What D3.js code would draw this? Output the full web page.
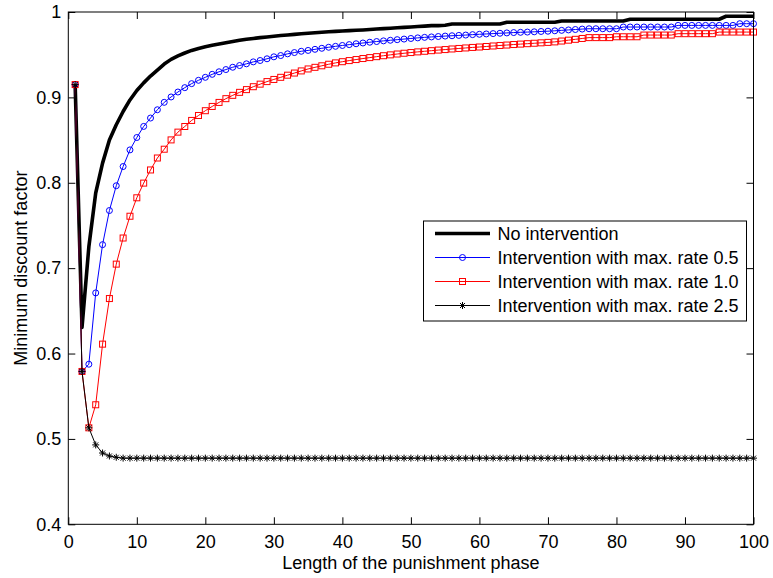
<!DOCTYPE html>
<html>
<head>
<meta charset="utf-8">
<script src="https://cdn.jsdelivr.net/npm/d3@7"></script>
<style>
  body { margin: 0; background: #fff; }
  text { font-family: "Liberation Sans", Arial, sans-serif; }
</style>
</head>
<body>
<div id="chart"></div>
<script>
// values, one per punishment length 1..100
var noIntervention = [
  0.915, 0.6306, 0.725, 0.788, 0.823, 0.850, 0.868, 0.8835, 0.897, 0.908,
  0.917, 0.925, 0.932, 0.939, 0.9445, 0.9485, 0.952, 0.955, 0.9573, 0.9593,
  0.961, 0.9625, 0.964, 0.9655, 0.9668, 0.968, 0.969, 0.970, 0.9708, 0.9716,
  0.9724, 0.9731, 0.9738, 0.9745, 0.9751, 0.9757, 0.9763, 0.9768, 0.9773, 0.9777,
  0.9782, 0.9786, 0.979, 0.9795, 0.98, 0.9805, 0.981, 0.9815, 0.982, 0.9825,
  0.983, 0.9835, 0.984, 0.984, 0.9845, 0.986, 0.986, 0.986, 0.986, 0.986,
  0.986, 0.986, 0.986, 0.988, 0.988, 0.988, 0.988, 0.988, 0.988, 0.988,
  0.988, 0.9895, 0.9895, 0.9895, 0.9895, 0.9895, 0.9895, 0.9895, 0.9895, 0.9895,
  0.9895, 0.9915, 0.9915, 0.9915, 0.9915, 0.9915, 0.9915, 0.9915, 0.9915, 0.9915,
  0.9915, 0.9915, 0.9915, 0.9915, 0.9915, 0.995, 0.995, 0.995, 0.995, 0.995
];

var rate05 = [
  0.915, 0.579, 0.5875, 0.671, 0.7275, 0.7675, 0.7965, 0.819, 0.8385, 0.853,
  0.866, 0.8758, 0.8855, 0.8942, 0.9005, 0.9063, 0.9114, 0.9161, 0.920, 0.9235,
  0.927, 0.930, 0.9326, 0.9353, 0.9373, 0.9393, 0.9416, 0.9432, 0.9452, 0.9475,
  0.949, 0.951, 0.9525, 0.954, 0.955, 0.9563, 0.9575, 0.9587, 0.9598, 0.9608,
  0.9618, 0.9628, 0.9637, 0.9646, 0.9654, 0.9662, 0.9669, 0.9676, 0.9683, 0.969,
  0.9697, 0.9703, 0.9708, 0.9713, 0.9718, 0.9722, 0.9726, 0.973, 0.9735, 0.9739,
  0.9743, 0.9747, 0.9751, 0.9755, 0.9759, 0.9762, 0.9765, 0.9768, 0.9772, 0.9775,
  0.978, 0.9785, 0.979, 0.9795, 0.98, 0.9804, 0.9804, 0.9804, 0.9804, 0.9804,
  0.9824, 0.9824, 0.9824, 0.9824, 0.9824, 0.9824, 0.9824, 0.9824, 0.9843, 0.9843,
  0.9843, 0.9843, 0.9843, 0.9843, 0.9843, 0.9843, 0.9843, 0.9863, 0.9863, 0.9863
];

var rate10 = [
  0.915, 0.579, 0.513, 0.540, 0.611, 0.6644, 0.7047, 0.7353, 0.7608, 0.7824,
  0.7996, 0.815, 0.829, 0.8393, 0.8502, 0.8593, 0.8659, 0.873, 0.8788, 0.8844,
  0.8894, 0.8941, 0.8985, 0.9024, 0.9059, 0.9091, 0.9125, 0.9155, 0.9185, 0.921,
  0.9235, 0.926, 0.9285, 0.931, 0.9333, 0.9352, 0.937, 0.9388, 0.9404, 0.9418,
  0.9431, 0.9443, 0.9455, 0.9466, 0.9477, 0.9488, 0.9498, 0.9508, 0.9517, 0.9525,
  0.9533, 0.954, 0.9547, 0.9554, 0.956, 0.9567, 0.9573, 0.9579, 0.9585, 0.959,
  0.9596, 0.9602, 0.9608, 0.9613, 0.9619, 0.9624, 0.9629, 0.9634, 0.9639, 0.9644,
  0.965, 0.966, 0.967, 0.968, 0.969, 0.970, 0.970, 0.970, 0.970, 0.971,
  0.971, 0.971, 0.971, 0.973, 0.973, 0.973, 0.973, 0.973, 0.9746, 0.9746,
  0.9746, 0.9746, 0.9746, 0.9746, 0.9765, 0.9765, 0.9765, 0.9765, 0.9765, 0.9765
];

var rate25 = [
  0.915, 0.579, 0.513, 0.493, 0.4835, 0.480, 0.4785, 0.4775, 0.4775, 0.4775,
  0.4775, 0.4775, 0.4775, 0.4775, 0.4775, 0.4775, 0.4775, 0.4775, 0.4775, 0.4775,
  0.4775, 0.4775, 0.4775, 0.4775, 0.4775, 0.4775, 0.4775, 0.4775, 0.4775, 0.4775,
  0.4775, 0.4775, 0.4775, 0.4775, 0.4775, 0.4775, 0.4775, 0.4775, 0.4775, 0.4775,
  0.4775, 0.4775, 0.4775, 0.4775, 0.4775, 0.4775, 0.4775, 0.4775, 0.4775, 0.4775,
  0.4775, 0.4775, 0.4775, 0.4775, 0.4775, 0.4775, 0.4775, 0.4775, 0.4775, 0.4775,
  0.4775, 0.4775, 0.4775, 0.4775, 0.4775, 0.4775, 0.4775, 0.4775, 0.4775, 0.4775,
  0.4775, 0.4775, 0.4775, 0.4775, 0.4775, 0.4775, 0.4775, 0.4775, 0.4775, 0.4775,
  0.4775, 0.4775, 0.4775, 0.4775, 0.4775, 0.4775, 0.4775, 0.4775, 0.4775, 0.4775,
  0.4775, 0.4775, 0.4775, 0.4775, 0.4775, 0.4775, 0.4775, 0.4775, 0.4775, 0.4775
];

var xTicks = [0, 10, 20, 30, 40, 50, 60, 70, 80, 90, 100];
var yTicks = [0.4, 0.5, 0.6, 0.7, 0.8, 0.9, 1];

var legendLabels = [
  "No intervention",
  "Intervention with max. rate 0.5",
  "Intervention with max. rate 1.0",
  "Intervention with max. rate 2.5"
];

var svgWidth = 773;
var svgHeight = 578;

var margin = { top: 12, right: 19.5, bottom: 53.7, left: 68.3 };
var width = svgWidth - margin.left - margin.right;
var height = svgHeight - margin.top - margin.bottom;

var svg = d3.select("#chart")
  .append("svg")
  .attr("width", svgWidth)
  .attr("height", svgHeight);

svg.append("rect")
  .attr("width", svgWidth)
  .attr("height", svgHeight)
  .attr("fill", "#fff");

var chartGroup = svg.append("g")
  .attr("transform", `translate(${margin.left}, ${margin.top})`);

var xScale = d3.scaleLinear().domain([0, 100]).range([0, width]);
var yScale = d3.scaleLinear().domain([0.4, 1]).range([height, 0]);

// inward ticks on all four sides, labels only bottom and left
var bottomAxis = d3.axisBottom(xScale).tickValues(xTicks).tickSize(-7).tickPadding(11)
  .tickFormat(d3.format("d"));
var topAxis = d3.axisTop(xScale).tickValues(xTicks).tickSize(-7).tickFormat("");
var leftAxis = d3.axisLeft(yScale).tickValues(yTicks).tickSize(-7).tickPadding(7)
  .tickFormat(d => d === 1 ? "1" : d3.format(".1f")(d));
var rightAxis = d3.axisRight(yScale).tickValues(yTicks).tickSize(-7).tickFormat("");

function styleAxis(g) {
  g.select(".domain").remove();
  g.selectAll(".tick line").attr("stroke", "#000");
  g.selectAll(".tick text")
    .attr("fill", "#000")
    .style("font-size", "18px")
    .style("font-family", "'Liberation Sans', Arial, sans-serif");
}

chartGroup.append("g")
  .attr("transform", `translate(0, ${height})`)
  .call(bottomAxis)
  .call(styleAxis);

chartGroup.append("g")
  .call(topAxis)
  .call(styleAxis);

chartGroup.append("g")
  .call(leftAxis)
  .call(styleAxis);

chartGroup.append("g")
  .attr("transform", `translate(${width}, 0)`)
  .call(rightAxis)
  .call(styleAxis);

// series lines
var line = d3.line()
  .x((d, i) => xScale(i + 1))
  .y(d => yScale(d));

chartGroup.append("path")
  .datum(noIntervention)
  .attr("d", line)
  .attr("fill", "none")
  .attr("stroke", "#000")
  .attr("stroke-width", 3.6)
  .attr("stroke-linejoin", "round");

chartGroup.append("path")
  .datum(rate05)
  .attr("d", line)
  .attr("fill", "none")
  .attr("stroke", "#0000ff")
  .attr("stroke-width", 1);

chartGroup.selectAll(".circ")
  .data(rate05)
  .enter()
  .append("circle")
  .attr("class", "circ")
  .attr("cx", (d, i) => xScale(i + 1))
  .attr("cy", d => yScale(d))
  .attr("r", 3)
  .attr("fill", "none")
  .attr("stroke", "#0000ff")
  .attr("stroke-width", 1);

chartGroup.append("path")
  .datum(rate10)
  .attr("d", line)
  .attr("fill", "none")
  .attr("stroke", "#ff0000")
  .attr("stroke-width", 1);

chartGroup.selectAll(".sq")
  .data(rate10)
  .enter()
  .append("rect")
  .attr("class", "sq")
  .attr("x", (d, i) => xScale(i + 1) - 3)
  .attr("y", d => yScale(d) - 3)
  .attr("width", 6)
  .attr("height", 6)
  .attr("fill", "none")
  .attr("stroke", "#ff0000")
  .attr("stroke-width", 1);

var starPath = "M-3.5,0H3.5M0,-3.5V3.5M-2.5,-2.5L2.5,2.5M-2.5,2.5L2.5,-2.5";

chartGroup.append("path")
  .datum(rate25)
  .attr("d", line)
  .attr("fill", "none")
  .attr("stroke", "#000")
  .attr("stroke-width", 1);

chartGroup.selectAll(".star")
  .data(rate25)
  .enter()
  .append("path")
  .attr("class", "star")
  .attr("transform", (d, i) => `translate(${xScale(i + 1)}, ${yScale(d)})`)
  .attr("d", starPath)
  .attr("fill", "none")
  .attr("stroke", "#000")
  .attr("stroke-width", 1);

// frame
chartGroup.append("rect")
  .attr("width", width)
  .attr("height", height)
  .attr("fill", "none")
  .attr("stroke", "#000")
  .attr("stroke-width", 1);

// axis titles
svg.append("text")
  .attr("x", margin.left + width / 2)
  .attr("y", 569)
  .attr("text-anchor", "middle")
  .style("font-size", "18px")
  .text("Length of the punishment phase");

svg.append("text")
  .attr("transform", `translate(27, ${margin.top + height / 2}) rotate(-90)`)
  .attr("text-anchor", "middle")
  .style("font-size", "18px")
  .text("Minimum discount factor");

// legend
var legend = svg.append("g")
  .attr("transform", "translate(423.5, 221)");

legend.append("rect")
  .attr("width", 323)
  .attr("height", 100)
  .attr("fill", "#fff")
  .attr("stroke", "#000")
  .attr("stroke-width", 1);

var legendColors = ["#000", "#0000ff", "#ff0000", "#000"];
var legendWidths = [3.6, 1, 1, 1];

legendLabels.forEach(function(label, i) {
  var rowY = 12.5 + i * 24;
  legend.append("line")
    .attr("x1", 11.5)
    .attr("x2", 66.5)
    .attr("y1", rowY)
    .attr("y2", rowY)
    .attr("stroke", legendColors[i])
    .attr("stroke-width", legendWidths[i]);

  if (i === 1) {
    legend.append("circle")
      .attr("cx", 39)
      .attr("cy", rowY)
      .attr("r", 3)
      .attr("fill", "none")
      .attr("stroke", "#0000ff");
  }
  else if (i === 2) {
    legend.append("rect")
      .attr("x", 36)
      .attr("y", rowY - 3)
      .attr("width", 6)
      .attr("height", 6)
      .attr("fill", "none")
      .attr("stroke", "#ff0000");
  }
  else if (i === 3) {
    legend.append("path")
      .attr("transform", `translate(39, ${rowY})`)
      .attr("d", starPath)
      .attr("fill", "none")
      .attr("stroke", "#000");
  }

  legend.append("text")
    .attr("x", 74)
    .attr("y", rowY + 6.5)
    .style("font-size", "18px")
    .text(label);
});
</script>
</body>
</html>
